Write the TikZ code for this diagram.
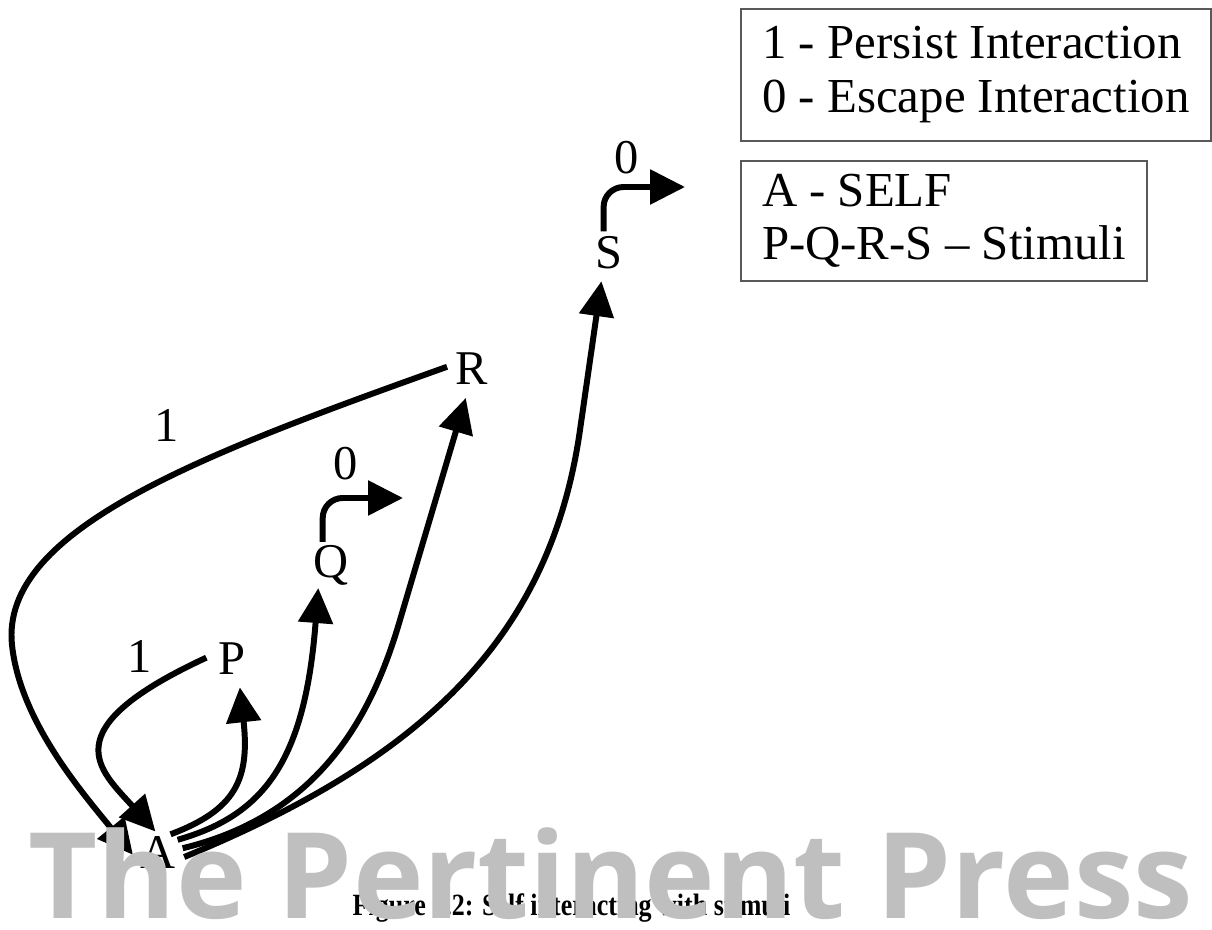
\documentclass[tikz,border=0pt]{standalone}
\usepackage{fontspec}
\setmainfont{Liberation Serif}
\newfontfamily\wmfont{Open Sans}
\usepackage{tikz}
\usetikzlibrary{arrows.meta}

\tikzset{
  letter/.style={circle, minimum size=0.5cm, inner sep=0pt, text height=0.66em, text depth=0pt, font=\fontsize{13.8}{16}\selectfont},
  digit/.style={inner sep=0pt, text height=0.66em, text depth=0pt, font=\fontsize{13.8}{16}\selectfont},
  link/.style={line width=1.7pt, -{Triangle[length=0.35cm, width=0.34cm]}},
  keybox/.style={draw=black!65, line width=0.5pt, align=left, anchor=north west, inner xsep=0pt, font=\fontsize{13.9}{15.3}\selectfont},
}

\begin{document}
\begin{tikzpicture}
  \useasboundingbox (0,0) rectangle (12.12,9.29);

  % Self and the stimuli
  \node[letter] (A) at (1.585, 0.72) {A};
  \node[letter] (P) at (2.315, 2.66) {P};
  \node[letter] (Q) at (3.315, 3.63) {Q};
  \node[letter] (R) at (4.72, 5.56) {R};
  \node[letter] (S) at (6.085, 6.725) {S};

  % A reaching out to each stimulus
  \draw[link] (A.62) .. controls (2.35, 1.19) and (2.50, 1.49) .. (P.-71);
  \draw[link] (A.42) .. controls (2.65, 1.14) and (3.05, 1.69) .. (Q.-121);
  \draw[link] (A.20) .. controls (3.20, 1.14) and (3.72, 2.13) .. (4.00, 3.09) -- (R.-104);
  \draw[link] (A.0) .. controls (4.20, 1.69) and (5.50, 2.89) .. (5.80, 4.99) -- (S.-106);

  % 1 - back to A
  \draw[link] (P.168) .. controls (0.50, 1.99) and (1.00, 1.59) .. (A.97);
  \node[digit] (p1) at (1.40, 2.68) {1};
  \draw[link] (R.166) .. controls (2.00, 4.74) and (0.00, 3.99) .. (0.12, 2.84)
    .. controls (0.20, 2.09) and (0.80, 1.39) .. (A.175);
  \node[digit] (r1) at (1.67, 4.99) {1};

  % 0 - away
  \coordinate (Qout) at (4.03, 4.31);
  \draw[link, rounded corners=0.2cm] (Q.110) |- (Qout);
  \node[digit] (q0) at (3.46, 4.61) {0};
  \coordinate (Sout) at (6.85, 7.42);
  \draw[link, rounded corners=0.2cm] (S.101) |- (Sout);
  \node[digit] (s0) at (6.27, 7.67) {0};

  % Keys
  \node[keybox, minimum width=4.70cm, minimum height=1.32cm] (key1) at (7.40, 9.21)
    {1 - Persist Interaction\\0 - Escape Interaction};
  \node[keybox, minimum width=4.06cm, minimum height=1.20cm] (key2) at (7.40, 7.69)
    {A - SELF\\P-Q-R-S -- Stimuli};

  % Caption and stamp
  \node[anchor=base, inner sep=0pt, font=\bfseries\fontsize{8.8}{10}\selectfont] (cap) at (5.715, 0.14)
    {\scalebox{0.84}[1]{Figure 3.2: Self interacting with stimuli}};
  \node[anchor=base west, inner sep=0pt, text=black!25, font=\wmfont\bfseries\fontsize{34}{34}\selectfont] (stamp) at (0.28, 0.11)
    {The Pertinent Press};
\end{tikzpicture}
\end{document}
